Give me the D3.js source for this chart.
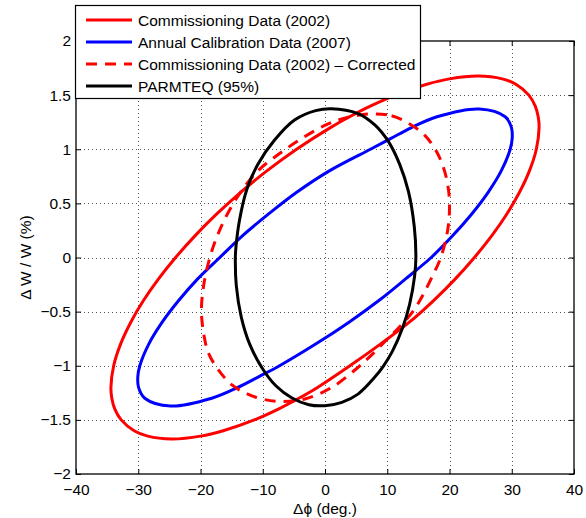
<!DOCTYPE html>
<html><head><meta charset="utf-8">
<script src="https://cdn.jsdelivr.net/npm/d3@7"></script>
<style>body{margin:0;background:#fff}svg{display:block}text{font-family:"Liberation Sans",Arial,Helvetica,sans-serif;fill:#000}</style>
</head><body><svg id="c" width="586" height="518"></svg>
<script>
const xTicks = [-40,-30,-20,-10,0,10,20,30,40];
const yTicks = [-2,-1.5,-1,-0.5,0,0.5,1,1.5,2];
const seriesNames = ["Commissioning Data (2002)","Annual Calibration Data (2007)","Commissioning Data (2002) \u2013 Corrected","PARMTEQ (95%)"];
const seriesColors = ["#ff0000","#0000ff","#ff0000","#000000"];
const seriesDash = [null,null,"11,8",null];

const commissioning2002 = [
 [24.62,1.676],[28.47,1.65],[30.66,1.6],[32.74,1.5],[33.76,1.4],[34.25,1.3],[34.39,1.2],[33.95,1.0],[32.84,0.8],
 [31.22,0.6],[29.19,0.4],[26.77,0.2],[24.0,0],[20.9,-0.2],[17.4,-0.4],[13.5,-0.6],[8.9,-0.8],[4.0,-1.0],
 [-1.2,-1.2],[-4.2,-1.3],[-7.5,-1.4],[-11.35,-1.5],[-16.35,-1.6],[-20.0,-1.65],[-24.62,-1.676],[-28.47,-1.65],
 [-30.66,-1.6],[-32.74,-1.5],[-33.76,-1.4],[-34.25,-1.3],[-34.39,-1.2],[-33.95,-1.0],[-32.84,-0.8],[-31.22,-0.6],
 [-29.19,-0.4],[-26.77,-0.2],[-24.0,0],[-20.89,0.2],[-17.43,0.4],[-13.6,0.6],[-9.34,0.8],[-4.57,1.0],[0.87,1.2],
 [3.95,1.3],[7.36,1.4],[11.32,1.5],[16.35,1.6],[20.0,1.65]
];
const calibration2007 = [
 [24.8,1.372],[28.95,1.3],[29.95,1.2],[30.07,1.1],[29.75,1.0],[28.31,0.8],[26.18,0.6],[23.54,0.4],[20.49,0.2],
 [17.06,0],[12.9,-0.2],[8.6,-0.4],[3.8,-0.6],[-1.5,-0.8],[-7.3,-1.0],[-10.6,-1.1],[-14.0,-1.2],[-18.2,-1.3],
 [-24.8,-1.372],[-28.95,-1.3],[-29.95,-1.2],[-30.07,-1.1],[-29.75,-1.0],[-28.31,-0.8],[-26.18,-0.6],[-23.54,-0.4],
 [-20.49,-0.2],[-16.9,0],[-13.27,0.2],[-9.1,0.4],[-4.6,0.6],[0.7,0.8],[7.3,1.0],[10.6,1.1],[13.9,1.2],[18.0,1.3]
];
const commissioningCorrected = [
 [7.0,1.325],[10.7,1.31],[13.4,1.24],[16.0,1.13],[18.0,0.97],[19.2,0.8],[19.85,0.62],[20.0,0.45],[19.7,0.25],
 [18.6,0],[17.1,-0.19],[15.6,-0.36],[14.1,-0.5],[12.0,-0.64],[9.9,-0.76],[7.5,-0.9],[5.0,-1.03],[1.1,-1.2],
 [-3.1,-1.305],[-6.9,-1.33],[-10.1,-1.308],[-12.5,-1.26],[-15.0,-1.175],[-17.1,-1.04],[-18.7,-0.886],[-19.5,-0.7],
 [-19.85,-0.49],[-19.5,-0.26],[-18.5,0],[-17.3,0.2],[-15.7,0.4],[-13.6,0.6],[-10.6,0.81],[-7.3,0.96],[-4.0,1.09],
 [-0.2,1.215],[3.0,1.285]
];
const parmteq95 = [
 [1.0,1.375],[5.3,1.33],[8.0,1.225],[10.2,1.07],[12.0,0.86],[13.4,0.61],[14.35,0.28],[14.6,0],[14.4,-0.17],
 [13.6,-0.43],[12.5,-0.645],[10.8,-0.87],[9.3,-1.01],[8.0,-1.105],[5.3,-1.262],[2.7,-1.338],[0,-1.369],
 [-2.6,-1.36],[-5.3,-1.298],[-7.9,-1.185],[-10.0,-1.03],[-12.1,-0.8],[-13.45,-0.55],[-14.25,-0.26],[-14.4,0],
 [-14.3,0.1],[-13.75,0.34],[-12.55,0.63],[-10.8,0.86],[-8.1,1.085],[-4.9,1.27],[-1.5,1.357]
];
const seriesData = [commissioning2002, calibration2007, commissioningCorrected, parmteq95];

const L=76, R=574, T=41, B=474;
const svg = d3.select("#c");
const x = d3.scaleLinear().domain([-40,40]).range([L,R]);
const y = d3.scaleLinear().domain([-2,2]).range([B,T]);
const fmt = v => (v<0?"\u2212":"") + Math.abs(v);
const FS = 15.5;

// grid
const g = svg.append("g").attr("stroke","#555").attr("stroke-width",1).attr("stroke-dasharray","1,3");
xTicks.slice(1,-1).forEach(v=>g.append("line").attr("x1",Math.round(x(v))+0.5).attr("x2",Math.round(x(v))+0.5).attr("y1",T).attr("y2",B));
yTicks.slice(1,-1).forEach(v=>g.append("line").attr("y1",Math.round(y(v))+0.5).attr("y2",Math.round(y(v))+0.5).attr("x1",L).attr("x2",R));

// curves
const line = d3.line().x(d=>x(d[0])).y(d=>y(d[1])).curve(d3.curveCatmullRomClosed.alpha(0.5));
seriesData.forEach((d,i)=>{
  svg.append("path").attr("d",line(d)).attr("fill","none").attr("stroke",seriesColors[i])
   .attr("stroke-width",3).attr("stroke-dasharray",seriesDash[i]).attr("stroke-linejoin","round");
});

// axes (box with inward ticks)
const axB = d3.axisBottom(x).tickValues(xTicks).tickFormat(fmt).tickSizeInner(-5).tickSizeOuter(0).tickPadding(10);
const axL = d3.axisLeft(y).tickValues(yTicks).tickFormat(fmt).tickSizeInner(-5).tickSizeOuter(0).tickPadding(5);
const axT = d3.axisTop(x).tickValues(xTicks).tickFormat("").tickSizeInner(-5).tickSizeOuter(0);
const axR = d3.axisRight(y).tickValues(yTicks).tickFormat("").tickSizeInner(-5).tickSizeOuter(0);
[[axB,`translate(0,${B})`],[axL,`translate(${L},0)`],[axT,`translate(0,${T})`],[axR,`translate(${R},0)`]].forEach(([a,t])=>{
  const gg = svg.append("g").attr("transform",t).call(a);
  gg.selectAll("text").attr("font-size",FS).attr("font-family","Liberation Sans, Arial, sans-serif").attr("fill","#000");
  gg.selectAll(".domain").remove();
  gg.selectAll(".tick line").attr("stroke","#000");
});
svg.append("rect").attr("x",L).attr("y",T).attr("width",R-L).attr("height",B-T).attr("fill","none").attr("stroke","#000").attr("stroke-width",1.3);

// axis labels
svg.append("text").attr("x",(L+R)/2).attr("y",514).attr("text-anchor","middle").attr("font-size",FS).text("\u0394\u03d5 (deg.)");
svg.append("text").attr("transform",`translate(31,${(T+B)/2}) rotate(-90)`).attr("text-anchor","middle").attr("font-size",FS).text("\u0394 W / W (%)");

// legend
const lg = svg.append("g");
lg.append("rect").attr("x",75.5).attr("y",5.5).attr("width",345).attr("height",93).attr("fill","#fff").attr("stroke","#000").attr("stroke-width",1.2);
seriesNames.forEach((n,i)=>{
  const yy = 20 + i*22;
  lg.append("line").attr("x1",86).attr("x2",132).attr("y1",yy).attr("y2",yy).attr("stroke",seriesColors[i]).attr("stroke-width",3).attr("stroke-dasharray",seriesDash[i]);
  lg.append("text").attr("x",138).attr("y",yy+5.5).attr("font-size",FS).text(n);
});
</script></body></html>
